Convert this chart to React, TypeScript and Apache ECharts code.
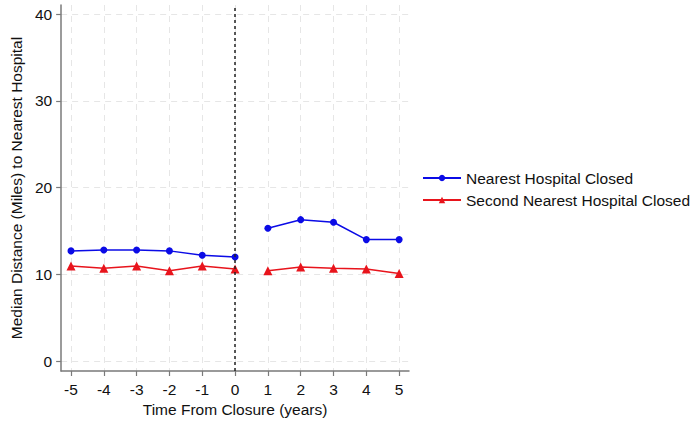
import React, { useEffect, useRef } from "react";
import * as echarts from "echarts";

const preYears = [-5, -4, -3, -2, -1, 0];
const postYears = [1, 2, 3, 4, 5];
const nearestPre = [12.7, 12.8, 12.8, 12.7, 12.2, 12.0];
const nearestPost = [15.3, 16.3, 16.0, 14.0, 14.0];
const secondPre = [10.95, 10.7, 10.95, 10.4, 10.95, 10.6];
const secondPost = [10.4, 10.85, 10.7, 10.6, 10.1];
const xTicks = [-5, -4, -3, -2, -1, 0, 1, 2, 3, 4, 5];
const yTicks = [0, 10, 20, 30, 40];

const NAME_A = "Nearest Hospital Closed";
const NAME_B = "Second Nearest Hospital Closed";
const BLUE = "#0b0be6";
const RED = "#e8141c";
const FONT = "Liberation Sans";
const FS = 15.5;

const pairs = (xs: number[], ys: number[]) => xs.map((x, i) => [x, ys[i]]);

export default function App() {
  const ref = useRef<HTMLDivElement>(null);
  useEffect(() => {
    document.body.style.margin = "0";
    const chart = echarts.init(ref.current!, undefined, { renderer: "svg" });
    const gridLine = { show: true, lineStyle: { color: "#e6e6e6", width: 1, type: [6, 5] } };
    const lineSeries = (name: string, data: number[][], color: string, symbol: string, size: number, extra: any = {}) => ({
      type: "line",
      name,
      data,
      symbol,
      symbolSize: size,
      itemStyle: { color },
      lineStyle: { color, width: 1.5 },
      emphasis: { disabled: true },
      ...extra,
    });
    chart.setOption({
      animation: false,
      textStyle: { fontFamily: FONT },
      grid: { left: 56, right: 284, top: 5, bottom: 52 },
      legend: {
        orient: "vertical",
        left: 422,
        top: 170,
        padding: 0,
        itemWidth: 38,
        itemHeight: 8,
        itemGap: 6,
        data: [NAME_A, NAME_B],
        textStyle: { fontFamily: FONT, fontSize: FS, color: "#111" },
      },
      xAxis: {
        type: "value",
        min: -5.3,
        max: 5.3,
        name: "Time From Closure (years)",
        nameLocation: "middle",
        nameGap: 30,
        nameTextStyle: { fontFamily: FONT, fontSize: FS, color: "#111" },
        axisLine: { show: true, onZero: false, lineStyle: { color: "#7a7a7a", width: 1.5 } },
        axisTick: { show: true, customValues: xTicks, length: 5, lineStyle: { color: "#7a7a7a", width: 1.2 } },
        axisLabel: { customValues: xTicks, fontFamily: FONT, fontSize: FS, color: "#111", margin: 10 },
        splitLine: { ...gridLine, customValues: xTicks },
      },
      yAxis: {
        type: "value",
        min: -1.15,
        max: 41.05,
        name: "Median Distance (Miles) to Nearest Hospital",
        nameLocation: "middle",
        nameGap: 33,
        nameTextStyle: { fontFamily: FONT, fontSize: FS, color: "#111" },
        axisLine: { show: true, onZero: false, lineStyle: { color: "#7a7a7a", width: 1.5 } },
        axisTick: { show: true, customValues: yTicks, length: 5, lineStyle: { color: "#7a7a7a", width: 1.2 } },
        axisLabel: { customValues: yTicks, fontFamily: FONT, fontSize: FS, color: "#111", margin: 9 },
        splitLine: { ...gridLine, customValues: yTicks },
      },
      series: [
        lineSeries(NAME_A, pairs(preYears, nearestPre), BLUE, "circle", 7, {
          markLine: {
            silent: true,
            symbol: "none",
            label: { show: false },
            lineStyle: { color: "#222", width: 1.5, type: [3, 3] },
            data: [{ xAxis: 0 }],
          },
        }),
        lineSeries(NAME_A, pairs(postYears, nearestPost), BLUE, "circle", 7),
        lineSeries(NAME_B, pairs(preYears, secondPre), RED, "triangle", 9),
        lineSeries(NAME_B, pairs(postYears, secondPost), RED, "triangle", 9),
      ],
    });
    return () => chart.dispose();
  }, []);
  return <div ref={ref} style={{ width: 693, height: 423 }} />;
}
